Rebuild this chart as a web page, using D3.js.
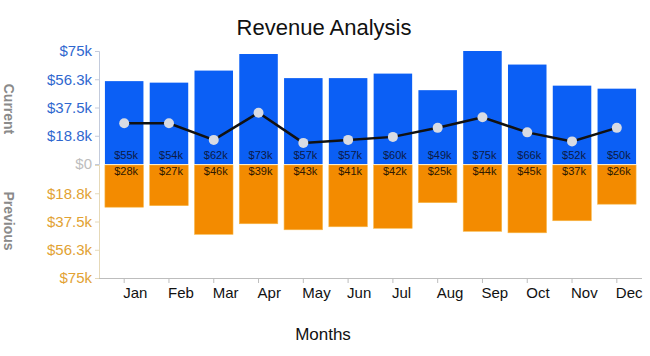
<!DOCTYPE html>
<html>
<head>
<meta charset="utf-8">
<script src="https://cdn.jsdelivr.net/npm/d3@7"></script>
<style>
  body { margin: 0; background: #fff; }
  svg { display: block; font-family: "Liberation Sans", Arial, sans-serif; }
</style>
</head>
<body>
<svg id="chart" width="650" height="356"></svg>
<script>
const months = ["Jan","Feb","Mar","Apr","May","Jun","Jul","Aug","Sep","Oct","Nov","Dec"];
const current = [55, 54, 62, 73, 57, 57, 60, 49, 75, 66, 52, 50];
const previous = [28, 27, 46, 39, 43, 41, 42, 25, 44, 45, 37, 26];
const yTicks = [0, 18.75, 37.5, 56.25, 75];
const yTickLabels = ["$0", "$18.8k", "$37.5k", "$56.3k", "$75k"];

const svg = d3.select("#chart");
const blue = "#0b5ff5", orange = "#f38b00";

const x = d3.scaleBand().domain(months).range([100, 641]).paddingInner(0.14).paddingOuter(0.11);
const yCur = d3.scaleLinear().domain([0, 75]).range([164, 51]);
const yPrev = d3.scaleLinear().domain([0, 75]).range([165, 278]);

// Bars current
svg.append("g").selectAll("rect").data(months).join("rect")
  .attr("x", d => x(d)).attr("width", x.bandwidth())
  .attr("y", (d, i) => yCur(current[i]))
  .attr("height", (d, i) => yCur(0) - yCur(current[i]))
  .attr("fill", blue);

// Bars previous
svg.append("g").selectAll("rect").data(months).join("rect")
  .attr("x", d => x(d)).attr("width", x.bandwidth())
  .attr("y", yPrev(0))
  .attr("height", (d, i) => yPrev(previous[i]) - yPrev(0))
  .attr("fill", orange)
  .attr("stroke", "#f7b84a").attr("stroke-width", 0.6);

// Value labels
svg.append("g").selectAll("text").data(months).join("text")
  .attr("x", d => x(d) + x.bandwidth() / 2 + 2)
  .attr("y", yCur(0) - 5)
  .attr("text-anchor", "middle").attr("font-size", 11).attr("fill", "#0c1a45")
  .text((d, i) => "$" + current[i] + "k");
svg.append("g").selectAll("text").data(months).join("text")
  .attr("x", d => x(d) + x.bandwidth() / 2 + 2)
  .attr("y", yPrev(0) + 10)
  .attr("text-anchor", "middle").attr("font-size", 11).attr("fill", "#2e1800")
  .text((d, i) => "$" + previous[i] + "k");

// Difference line
const diff = current.map((c, i) => c - previous[i]);
const line = d3.line().x((d, i) => x(months[i]) + x.bandwidth() / 2).y(d => yCur(d));
svg.append("path").datum(diff).attr("d", line)
  .attr("fill", "none").attr("stroke", "#111").attr("stroke-width", 2.5);
svg.append("g").selectAll("circle").data(diff).join("circle")
  .attr("cx", (d, i) => x(months[i]) + x.bandwidth() / 2)
  .attr("cy", d => yCur(d)).attr("r", 5)
  .attr("fill", "#d8dbe3");

// Y axes
const axCur = svg.append("g").attr("transform", "translate(99,0)")
  .call(d3.axisLeft(yCur).tickValues(yTicks).tickFormat((d, i) => yTickLabels[i]).tickSize(4).tickPadding(3));
axCur.select(".domain").attr("stroke", "#c3cbdc");
axCur.selectAll(".tick line").attr("stroke", "#c3cbdc");
axCur.selectAll(".tick text").attr("font-size", 15).attr("font-family", "Liberation Sans, Arial, sans-serif")
  .attr("fill", (d, i) => i === 0 ? "#bdbdbd" : "#2f67cf");

const axPrev = svg.append("g").attr("transform", "translate(99,0)")
  .call(d3.axisLeft(yPrev).tickValues(yTicks.slice(1)).tickFormat((d, i) => yTickLabels[i + 1]).tickSize(4).tickPadding(3));
axPrev.select(".domain").attr("stroke", "#e6d9b8");
axPrev.selectAll(".tick line").attr("stroke", "#e6d9b8");
axPrev.selectAll(".tick text").attr("font-size", 15).attr("font-family", "Liberation Sans, Arial, sans-serif")
  .attr("fill", "#e2a233");

// X axis
const axX = svg.append("g").attr("transform", "translate(0,278)")
  .call(d3.axisBottom(x).tickSize(5).tickSizeOuter(0));
axX.select(".domain").attr("stroke", "#bdbdbd").attr("d", "M99,0.5H642");
axX.selectAll(".tick line").attr("stroke", "#bdbdbd");
axX.selectAll(".tick text").attr("font-size", 15).attr("font-family", "Liberation Sans, Arial, sans-serif")
  .attr("fill", "#111").attr("text-anchor", "start").attr("x", -1).attr("y", 9);

// Titles
svg.append("text").attr("x", 324).attr("y", 35).attr("text-anchor", "middle")
  .attr("font-size", 22).attr("fill", "#111").text("Revenue Analysis");
svg.append("text").attr("x", 323).attr("y", 340).attr("text-anchor", "middle")
  .attr("font-size", 17).attr("fill", "#111").text("Months");
svg.append("text").attr("transform", "translate(4,109) rotate(90)").attr("text-anchor", "middle")
  .attr("font-size", 14).attr("font-weight", "bold").attr("fill", "#8a8a8a").text("Current");
svg.append("text").attr("transform", "translate(4,221) rotate(90)").attr("text-anchor", "middle")
  .attr("font-size", 14).attr("font-weight", "bold").attr("fill", "#8a8a8a").text("Previous");
</script>
</body>
</html>
